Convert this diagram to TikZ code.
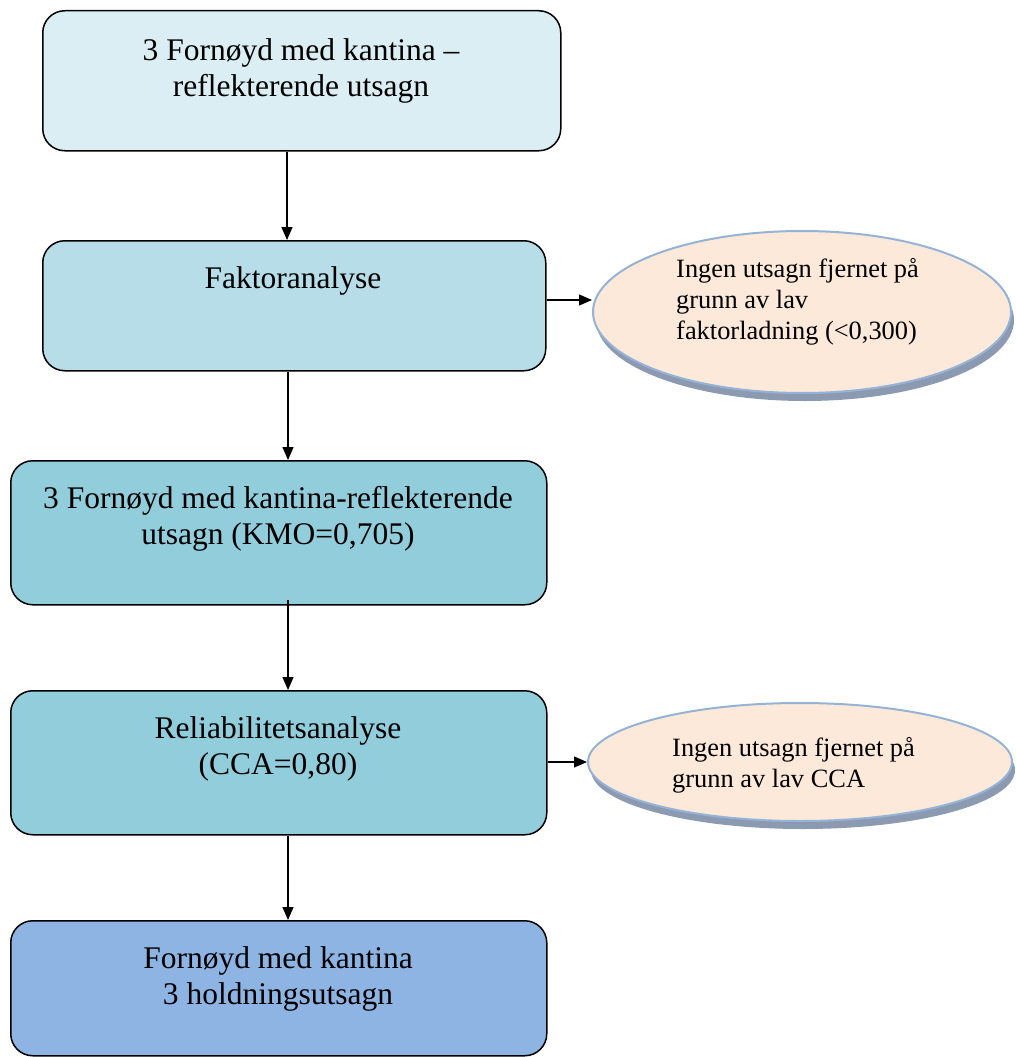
\documentclass[tikz,border=0pt]{standalone}
\usepackage{fontspec}
\setmainfont{Liberation Serif}
\usetikzlibrary{arrows.meta,shapes.geometric,shadows}

\definecolor{boxA}{HTML}{DAEEF3}
\definecolor{boxB}{HTML}{B7DDE8}
\definecolor{boxC}{HTML}{92CDDC}
\definecolor{boxD}{HTML}{8EB4E3}
\definecolor{ovalfill}{HTML}{FDE9D9}
\definecolor{ovalline}{HTML}{95B3D7}
\definecolor{ovalshade}{HTML}{7F8FA9}

\tikzset{
  stepbox/.style={draw=black, line width=1.5pt, rounded corners=22pt,
    anchor=north west, inner sep=0pt},
  boxtext/.style={anchor=north, align=center, inner sep=0pt,
    font=\fontsize{31.5}{36}\selectfont},
  oval/.style={ellipse, draw=ovalline, line width=2pt, fill=ovalfill,
    inner sep=0pt,
    drop shadow={shadow xshift=3pt, shadow yshift=-8pt, fill=ovalshade, opacity=0.9}},
  ovaltext/.style={anchor=north west, align=left, inner sep=0pt,
    font=\fontsize{26.4}{31}\selectfont},
  flow/.style={draw=black, line width=1.3pt, -{Triangle[length=13pt,width=11pt]}}
}

\begin{document}
\begin{tikzpicture}[x=1pt, y=-1pt]
\useasboundingbox (0,0) rectangle (1016,1057);

% main chain of boxes
\node[stepbox, fill=boxA, minimum width=518pt, minimum height=140pt] (b1) at (42,10) {};
\node[stepbox, fill=boxB, minimum width=503pt, minimum height=130pt] (b2) at (42,240) {};
\node[stepbox, fill=boxC, minimum width=536pt, minimum height=144pt] (b3) at (10,460) {};
\node[stepbox, fill=boxC, minimum width=536pt, minimum height=144pt] (b4) at (10,690) {};
\node[stepbox, fill=boxD, minimum width=536pt, minimum height=135pt] (b5) at (10,920) {};

\node[boxtext] (t1) at (301,38) {3 Fornøyd med kantina –\\reflekterende utsagn};
\node[boxtext] (t2) at (293,266) {Faktoranalyse};
\node[boxtext] (t3) at (278,486) {3 Fornøyd med kantina-reflekterende\\utsagn (KMO=0,705)};
\node[boxtext] (t4) at (278,716) {Reliabilitetsanalyse\\(CCA=0,80)};
\node[boxtext] (t5) at (278,946) {Fornøyd med kantina\\3 holdningsutsagn};

% side notes
\node[oval, minimum width=418pt, minimum height=162pt] (e1) at (802,312) {};
\node[oval, minimum width=424pt, minimum height=118pt] (e2) at (800,762) {};

\node[ovaltext] (n1) at (676,258) {Ingen utsagn fjernet på\\grunn av lav\\faktorladning (<0,300)};
\node[ovaltext] (n2) at (672,737) {Ingen utsagn fjernet på\\grunn av lav CCA};

% connectors
\coordinate (xa) at (287,0);
\coordinate (xb) at (288,0);
\coordinate (ya) at (0,300);
\coordinate (yb) at (0,762);
\coordinate (s3) at (288,600);

\draw[flow] (b1.south -| xa) -- (b2.north -| xa);
\draw[flow] (b2.south -| xb) -- (b3.north -| xb);
\draw[flow] (s3) -- (b4.north -| s3);
\draw[flow] (b4.south -| xb) -- (b5.north -| xb);
\draw[flow] (b2.east |- ya) -- (e1.west |- ya);
\draw[flow] (b4.east |- yb) -- (e2.west |- yb);
\end{tikzpicture}
\end{document}
